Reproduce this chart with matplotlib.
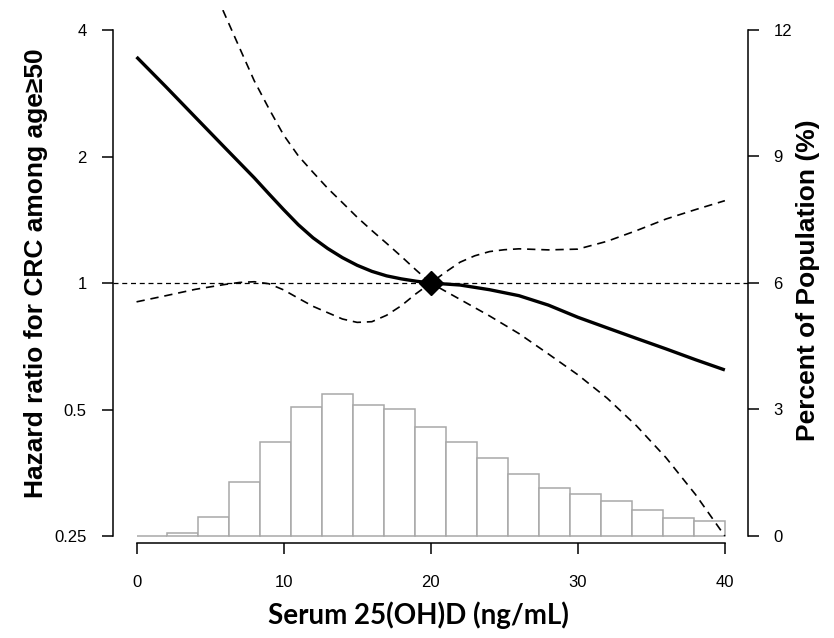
import numpy as np
import matplotlib
matplotlib.use("Agg")
from matplotlib import pyplot as plt

# hazard ratio curve
x_hr = [0, 2, 4, 6, 8, 9, 10, 11, 12, 13, 14, 15, 16, 17, 18, 19, 20,
        22, 24, 26, 28, 30, 32, 34, 36, 38, 40]
hr = [3.45, 2.93, 2.48, 2.10, 1.78, 1.63, 1.495, 1.376, 1.281, 1.208, 1.149,
      1.102, 1.066, 1.04, 1.023, 1.01, 1.0,
      0.989, 0.964, 0.933, 0.886, 0.829, 0.782, 0.738, 0.697, 0.657, 0.621]

# 95% confidence limits
x_lo = [0, 2, 4, 6, 7, 8, 9, 10, 11, 12, 13, 14, 15, 16, 17, 18, 19, 20,
        22, 24, 26, 28, 30, 32, 34, 36, 38, 40]
hr_lo = [0.902, 0.933, 0.966, 0.992, 1.003, 1.007, 0.996, 0.963, 0.920, 0.880,
         0.850, 0.821, 0.806, 0.809, 0.838, 0.883, 0.943, 1.0,
         0.914, 0.835, 0.758, 0.678, 0.605, 0.532, 0.457, 0.384, 0.314, 0.25]
x_up = [5.87, 7, 8, 9, 10, 11, 12, 13, 14, 15, 16, 17, 18, 19, 20,
        21, 22, 23, 24, 25, 26, 28, 30, 32, 34, 36, 38, 40]
hr_up = [4.46, 3.63, 3.03, 2.60, 2.25, 2.007, 1.834, 1.68, 1.553, 1.434, 1.333,
         1.243, 1.157, 1.074, 1.0,
         1.061, 1.121, 1.161, 1.188, 1.2, 1.206, 1.199, 1.204, 1.257, 1.333,
         1.42, 1.495, 1.57]

ref_x, ref_hr = 20, 1.0

# histogram of serum 25(OH)D, percent of population per bin
pct = [0.0, 0.08, 0.46, 1.29, 2.24, 3.07, 3.36, 3.10, 3.01, 2.59,
       2.22, 1.85, 1.47, 1.15, 0.99, 0.84, 0.62, 0.43, 0.36]
bin_edges = np.linspace(0, 40, len(pct) + 1)

plt.rcParams['font.family'] = ['Liberation Sans', 'DejaVu Sans']

fig = plt.figure(figsize=(8.34, 6.38), dpi=100)
ax = fig.add_axes([113 / 834, 1 - 543 / 638, 635.4 / 834, 533 / 638])
ax2 = ax.twinx()

# histogram on the secondary axis, behind the curves
ax2.bar(bin_edges[:-1], pct, width=np.diff(bin_edges), align='edge',
        facecolor='white', edgecolor='#a8a8a8', linewidth=1.1)
ax2.set_ylim(-0.166, 12.474)
ax2.set_yticks([0, 3, 6, 9, 12])
ax.set_zorder(ax2.get_zorder() + 1)
ax.patch.set_visible(False)

ax.set_yscale('log', base=2)
ax.set_ylim(2 ** -2.055, 2 ** 2.158)
ax.set_xlim(-1.6, 41.6)

ax.axhline(1.0, color='black', lw=0.9, ls=(0, (4, 3)))
ax.plot(x_hr, hr, color='black', lw=2.4, solid_capstyle='butt',
        solid_joinstyle='round')
ax.plot(x_lo, hr_lo, color='black', lw=1.2, ls=(0, (5, 3.5)))
ax.plot(x_up, hr_up, color='black', lw=1.2, ls=(0, (5, 3.5)))
ax.plot([ref_x], [ref_hr], marker='D', ms=12.5, color='black')

ax.set_yticks([0.25, 0.5, 1, 2, 4])
ax.set_yticklabels(['0.25', '0.5', '1', '2', '4'])
ax.yaxis.set_minor_locator(matplotlib.ticker.NullLocator())
ax.set_xticks([0, 10, 20, 30, 40])

for a in (ax, ax2):
    a.spines['top'].set_visible(False)
ax.spines['right'].set_visible(False)
ax2.spines['left'].set_visible(False)
ax2.spines['bottom'].set_visible(False)
ax.spines['left'].set_bounds(0.25, 4)
ax2.spines['right'].set_bounds(0, 12)
ax.spines['bottom'].set_bounds(0, 40)
for sp in (ax.spines['left'], ax.spines['bottom'], ax2.spines['right']):
    sp.set_linewidth(1.1)

ax.tick_params(axis='y', length=8, width=1.1, pad=11, labelsize=12, colors='black')
ax.tick_params(axis='x', length=8, width=1.1, pad=15, labelsize=12)
ax2.tick_params(axis='y', length=8, width=1.1, pad=10, labelsize=12)

fig.text(36 / 834, 1 - 273 / 638, 'Hazard ratio for CRC among age≥50',
         rotation=90, ha='center', va='center', fontsize=19, fontweight='bold')
fig.text(808 / 834, 1 - 280 / 638, 'Percent of Population (%)',
         rotation=90, ha='center', va='center', fontsize=19, fontweight='bold')
fig.text(418 / 834, 1 - 615 / 638, 'Serum 25(OH)D (ng/mL)',
         ha='center', va='center', fontsize=20, fontweight='bold',
         family=['Lato', 'DejaVu Sans'])

fig.savefig('out.png', dpi=100)
